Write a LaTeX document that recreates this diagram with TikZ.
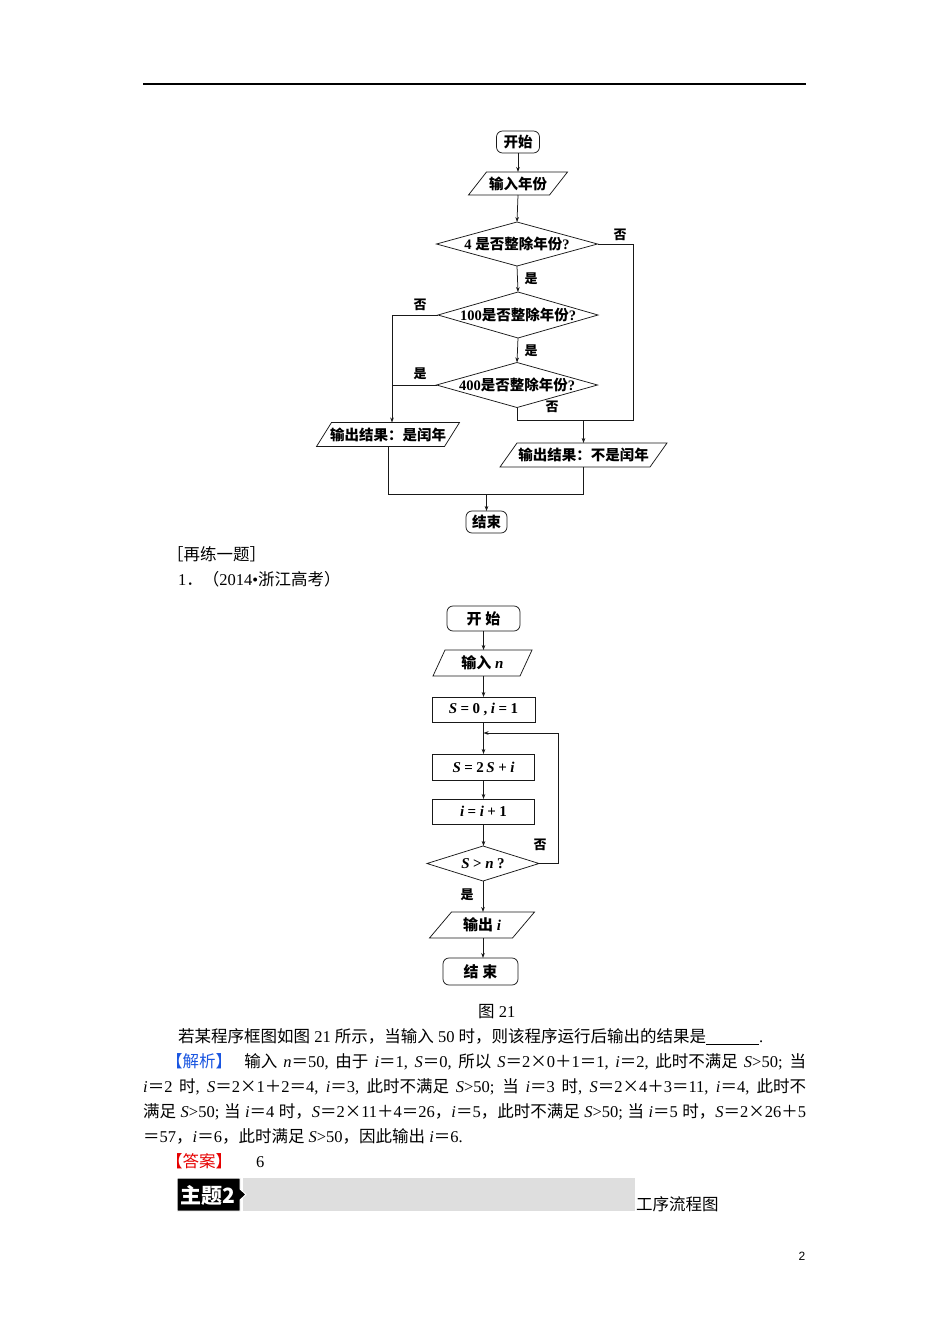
\documentclass[tikz,border=0pt]{standalone}
\usepackage{fontspec}
\setmainfont{Liberation Serif}
\setsansfont{Liberation Sans}
\newfontfamily\cjk{Noto Sans CJK SC}
\usetikzlibrary{arrows.meta}
\XeTeXinterchartokenstate=1
\newXeTeXintercharclass\cjkcls
\newcount\mycc
\def\setrange#1#2{\mycc=#1 \loop \XeTeXcharclass\mycc=\cjkcls \advance\mycc by 1 \ifnum\mycc<#2 \repeat}
\setrange{"3000}{"3040}
\setrange{"4E00}{"A000}
\setrange{"FF00}{"FFF0}
\XeTeXcharclass"00D7=\cjkcls
\XeTeXinterchartoks 0 \cjkcls = {\cjk}
\XeTeXinterchartoks 4095 \cjkcls = {\cjk}
\XeTeXinterchartoks \cjkcls 0 = {\rmfamily}
\XeTeXinterchartoks \cjkcls 4095 = {\rmfamily}
\definecolor{jblue}{RGB}{25,85,225}
\definecolor{jred}{RGB}{230,0,0}
\newcommand\fm[1]{{\itshape #1}}
\newcommand\gsp{\hspace{3.5pt}}
\newcommand\pgram[2]{\draw[ln] ([xshift=-#2/2]#1.south west) -- ([xshift=#2/2]#1.north west) -- ([xshift=#2/2]#1.north east) -- ([xshift=-#2/2]#1.south east) -- cycle;}
\newcommand\dia[1]{\draw[ln] (#1.north) -- (#1.east) -- (#1.south) -- (#1.west) -- cycle;}
\tikzset{
  ln/.style={line width=0.75pt, draw=black!90},
  arr/.style={ln, -{Stealth[length=5pt,width=3.6pt]}},
  fc/.style={font=\fontsize{14.5}{14.5}\selectfont\bfseries, inner sep=0pt, outer sep=0pt, align=center},
  fcb/.style={font=\fontsize{15}{15}\selectfont\bfseries, inner sep=0pt, outer sep=0pt, align=center},
  term/.style={ln, draw, rounded corners=6pt},
  lab/.style={font=\fontsize{13}{13}\selectfont\bfseries, inner sep=0pt},
  body/.style={font=\fontsize{16.5}{19}\selectfont, inner sep=0pt, anchor=base west}
}
\begin{document}
\begin{tikzpicture}[x=1pt,y=-1pt]
\useasboundingbox (0,0) rectangle (950,1344);
\fill[white] (0,0) rectangle (950,1344);
\draw[line width=1.6pt] (143,84) -- (806,84);

% ---------- flowchart 1 ----------
\node[fc, term, minimum width=43pt, minimum height=22pt] (s1) at (518,142) {开始};
\node[fc, minimum width=81pt, minimum height=23pt] (i1) at (518,183.5) {输入年份};
\pgram{i1}{18}
\node[fc, minimum width=161pt, minimum height=44pt] (d1) at (517,244) {4 是否整除年份?};
\dia{d1}
\node[fc, minimum width=160pt, minimum height=46pt] (d2) at (518,315) {100是否整除年份?};
\dia{d2}
\node[fc, minimum width=161pt, minimum height=45pt] (d3) at (517,385) {400是否整除年份?};
\dia{d3}
\node[fc, minimum width=128pt, minimum height=24pt] (o1) at (388,434.5) {输出结果：是闰年};
\pgram{o1}{15}
\node[fc, minimum width=150pt, minimum height=24pt] (o2) at (583.5,455) {输出结果：不是闰年};
\pgram{o2}{17}
\node[fc, term, minimum width=41pt, minimum height=22pt] (e1) at (486.5,522) {结束};

\draw[arr] (s1.south) -- (i1.north);
\draw[arr] (i1.south) -- (d1.north);
\draw[arr] (d1.south) -- (d2.north);
\draw[arr] (d2.south) -- (d3.north);
\coordinate (r1) at (633,420);
\coordinate (j2) at (583.5,420);
\draw[ln] (d1.east) -| (r1) -- (d3.south |- r1) -- (d3.south);
\draw[arr] (j2) -- (o2.north);
\coordinate (l1) at (392,315);
\coordinate (l2) at (392,385);
\draw[ln] (d2.west) -- (l1);
\draw[ln] (d3.west) -- (l2);
\draw[arr] (l1) -- (l1 |- o1.north);
\coordinate (b1) at (388,494);
\coordinate (m1) at (486.5,494);
\draw[ln] (o1.south) |- (o2.south |- b1) -- (o2.south);
\draw[arr] (m1) -- (e1.north);
\node[lab] (n1) at (620,235) {否};
\node[lab] (y1) at (531,279) {是};
\node[lab] (n2) at (420,305) {否};
\node[lab] (y2) at (531,351) {是};
\node[lab] (y3) at (420,374) {是};
\node[lab] (n3) at (552,407) {否};

% ---------- text ----------
\node[body] (t0a) at (167,560) {［再练一题］};
\node[body] (t0b) at (178,585) {1．（2014•浙江高考）};

% ---------- flowchart 2 ----------
\node[fcb, term, minimum width=73pt, minimum height=25pt] (s2) at (483.5,618.5) {开 始};
\node[fcb, minimum width=87pt, minimum height=26pt] (i2) at (482.5,663) {输入 \fm{n}};
\pgram{i2}{12}
\node[fcb, ln, draw, minimum width=103pt, minimum height=25pt] (p1) at (483.5,709.5) {\fm{S}\gsp=\gsp0\gsp,\gsp\fm{i}\gsp=\gsp1};
\node[fcb, ln, draw, minimum width=102pt, minimum height=26pt] (p2) at (483.5,767) {\fm{S}\gsp=\gsp2\,\fm{S}\gsp+\gsp\fm{i}};
\node[fcb, ln, draw, minimum width=102pt, minimum height=25pt] (p3) at (483.5,811.5) {\fm{i}\gsp=\gsp\fm{i}\gsp+\gsp1};
\node[fcb, minimum width=112pt, minimum height=35pt] (d4) at (483,863.5) {\fm{S}\gsp>\gsp\fm{n}\gsp?};
\dia{d4}
\node[fcb, minimum width=83pt, minimum height=26pt] (o3) at (482,925) {输出 \fm{i}};
\pgram{o3}{22}
\node[fcb, term, minimum width=75pt, minimum height=27pt] (e2) at (480.5,971.5) {结 束};

\draw[arr] (s2.south) -- (i2.north -| s2.south);
\draw[arr] (i2.north -| s2.south) ++(0,26) -- (p1.north);
\draw[arr] (p1.south) -- (p2.north);
\draw[arr] (p2.south) -- (p3.north);
\draw[arr] (p3.south) -- (d4.north -| p3.south);
\draw[arr] (d4.south) -- (o3.north -| d4.south);
\draw[arr] (o3.south -| d4.south) -- (e2.north -| d4.south);
\coordinate (lp) at (558,733);
\draw[arr] (d4.east) -| (lp) -- (lp -| p1.south);
\node[lab] (n4) at (540,845) {否};
\node[lab] (y4) at (467,895) {是};

% ---------- paragraph ----------
\node[body] (cap) at (478,1017) {图 21};
\node[body] (t1) at (178,1042) {若某程序框图如图 21 所示，当输入 50 时，则该程序运行后输出的结果是\rule[-2.5pt]{53pt}{0.6pt}.};
\node[body] (t2) at (166,1067) {\makebox[640pt][s]{\textcolor{jblue}{【解析】}\ \ 输入 \fm{n}＝50, 由于 \fm{i}＝1, \fm{S}＝0, 所以 \fm{S}＝2×0＋1＝1, \fm{i}＝2, 此时不满足 \fm{S}>50; 当}};
\node[body] (t3) at (143,1092) {\makebox[663pt][s]{\fm{i}＝2 时, \fm{S}＝2×1＋2＝4, \fm{i}＝3, 此时不满足 \fm{S}>50; 当 \fm{i}＝3 时, \fm{S}＝2×4＋3＝11, \fm{i}＝4, 此时不}};
\node[body] (t4) at (143,1117) {\makebox[663pt][s]{满足 \fm{S}>50; 当 \fm{i}＝4 时，\fm{S}＝2×11＋4＝26，\fm{i}＝5，此时不满足 \fm{S}>50; 当 \fm{i}＝5 时，\fm{S}＝2×26＋5}};
\node[body] (t5) at (143,1142) {＝57，\fm{i}＝6，此时满足 \fm{S}>50，因此输出 \fm{i}＝6.};
\node[body] (t6) at (166,1167) {\textcolor{jred}{【答案】}\hspace{24pt}6};

% ---------- banner ----------
\fill[black!13] (243,1178) rectangle (635,1211);
\filldraw[fill=black, draw=white, line width=1pt] (177,1178) -- (240,1178) -- (240,1189) -- (246,1194.5) -- (240,1200) -- (240,1211) -- (177,1211) -- cycle;
\node[white, font=\fontsize{21}{21}\selectfont\bfseries, inner sep=0pt] (ban) at (208,1195) {\XeTeXinterchartokenstate=0 \cjk 主题2};
\node[body] (sub) at (636,1210) {工序流程图};
\node[font=\fontsize{12}{12}\selectfont\sffamily, inner sep=0pt] (pg) at (802,1256) {2};
\end{tikzpicture}
\end{document}
